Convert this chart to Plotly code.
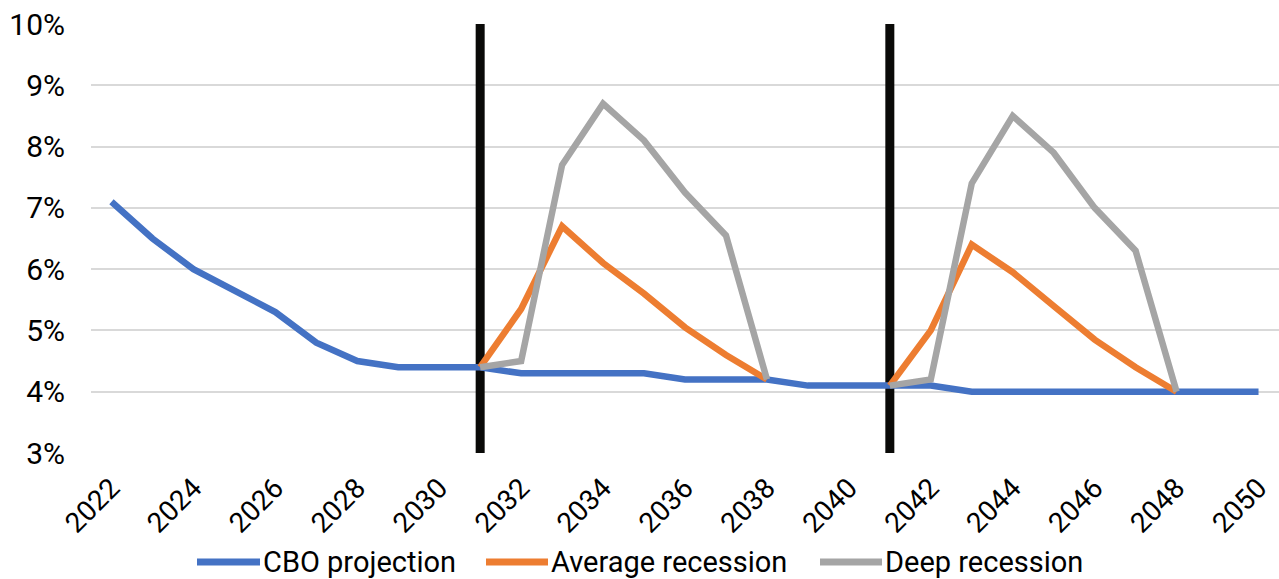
import plotly.graph_objects as go

# Unemployment-rate scenarios, 2022-2050 (percent)
years = list(range(2022, 2051))

cbo_projection = [7.1, 6.5, 6.0, 5.65, 5.3, 4.8, 4.5, 4.4, 4.4, 4.4,
                  4.3, 4.3, 4.3, 4.3, 4.2, 4.2, 4.2, 4.1, 4.1, 4.1,
                  4.1, 4.0, 4.0, 4.0, 4.0, 4.0, 4.0, 4.0, 4.0]

average_recession = [None] * 9 + [4.4, 5.35, 6.7, 6.1, 5.6, 5.05, 4.6, 4.2] + [None] * 2 + \
                    [4.1, 5.0, 6.4, 5.95, 5.4, 4.85, 4.4, 4.0] + [None] * 2

deep_recession = [None] * 9 + [4.4, 4.5, 7.7, 8.7, 8.1, 7.25, 6.55, 4.2] + [None] * 2 + \
                 [4.1, 4.2, 7.4, 8.5, 7.9, 7.0, 6.3, 4.0] + [None] * 2

# Years in which a recession begins
recession_starts = [2031, 2041]

series_names = ["CBO projection", "Average recession", "Deep recession"]
series_colors = ["#4472C4", "#ED7D31", "#A5A5A5"]

y_min, y_max = 3, 10
tick_years = list(range(2022, 2051, 2))

FONT = "Roboto, sans-serif"
W, H = 1279, 579
M_L, M_R, M_T, M_B = 91, 0, 24, 126
PLOT_W = W - M_L - M_R
PLOT_H = H - M_T - M_B


def px_x(px):
    """Horizontal pixel position -> paper coordinate."""
    return (px - M_L) / PLOT_W


def px_y(py):
    """Vertical pixel position (from top) -> paper coordinate."""
    return (H - M_B - py) / PLOT_H


fig = go.Figure()

# vertical markers at the start of each recession
vx, vy = [], []
for yr in recession_starts:
    vx += [yr, yr, None]
    vy += [y_min, y_max, None]
fig.add_trace(go.Scatter(x=vx, y=vy, mode="lines",
                         line=dict(color="#0a0a08", width=9),
                         showlegend=False, hoverinfo="skip"))

for name, vals, color in zip(series_names,
                             [cbo_projection, average_recession, deep_recession],
                             series_colors):
    fig.add_trace(go.Scatter(x=years, y=vals, name=name, mode="lines",
                             line=dict(color=color, width=6.5),
                             connectgaps=False, showlegend=False))

# legend row beneath the axis: swatch line + label for each series
legend_swatch_px = [(197, 260), (486, 548), (820, 882)]
legend_y_px = 562
shapes, annotations = [], []
for (x0, x1), name, color in zip(legend_swatch_px, series_names, series_colors):
    shapes.append(dict(type="line", xref="paper", yref="paper",
                       x0=px_x(x0), x1=px_x(x1),
                       y0=px_y(legend_y_px), y1=px_y(legend_y_px),
                       line=dict(color=color, width=7)))
    annotations.append(dict(text=name, xref="paper", yref="paper",
                            x=px_x(x1 + 1), y=px_y(legend_y_px),
                            xanchor="left", yanchor="middle",
                            showarrow=False, font=dict(size=29)))

fig.update_layout(
    width=W, height=H, autosize=False,
    margin=dict(l=M_L, r=M_R, t=M_T, b=M_B),
    paper_bgcolor="white", plot_bgcolor="white",
    font=dict(family=FONT, size=29, color="#000000"),
    showlegend=False,
    shapes=shapes, annotations=annotations,
    xaxis=dict(range=[2021.5, 2050.5], tickvals=tick_years,
               ticktext=[str(t) for t in tick_years], tickangle=-45,
               showgrid=False, zeroline=False, showline=False,
               ticks="", ticklabelstandoff=12, tickfont=dict(size=28)),
    yaxis=dict(range=[y_min, y_max], dtick=1, ticksuffix="%",
               showgrid=True, gridcolor="#d9d9d9", gridwidth=2,
               zeroline=False, showline=False, ticks="",
               ticklabelstandoff=25, tickfont=dict(size=30)),
)

fig.write_html("out.html")
